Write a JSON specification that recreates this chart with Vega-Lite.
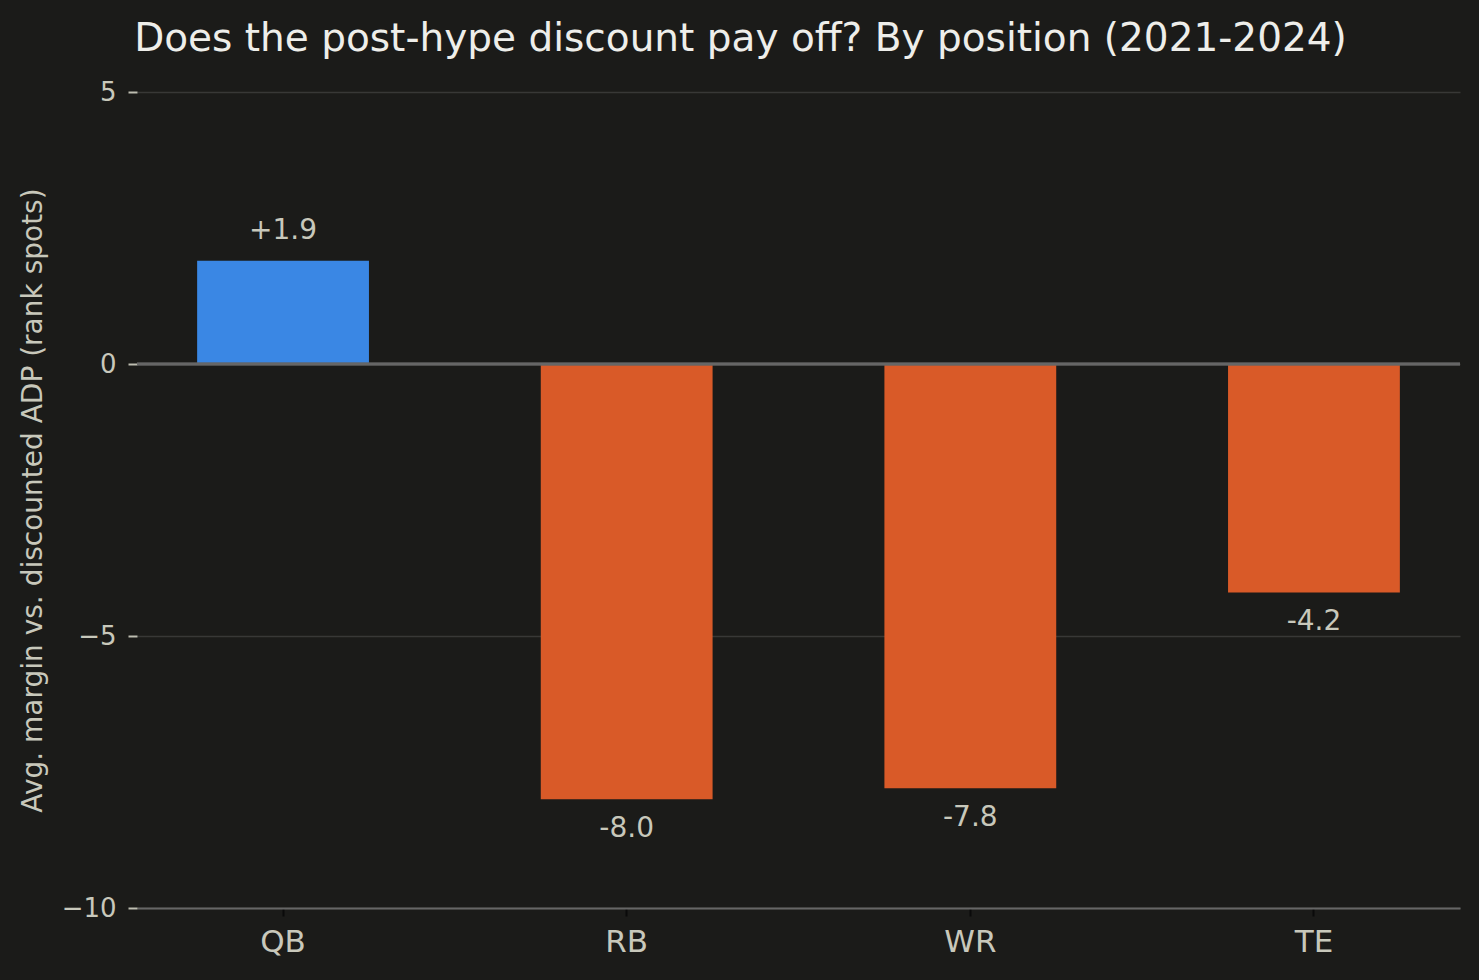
{
  "$schema": "https://vega.github.io/schema/vega-lite/v6.json",
  "width": 1323,
  "height": 816,
  "autosize": {"type": "none"},
  "padding": {"left": 137, "top": 92, "right": 19, "bottom": 72},
  "background": "#1b1b19",
  "title": {
    "text": "Does the post-hype discount pay off? By position (2021-2024)",
    "anchor": "middle",
    "frame": "group",
    "dx": -58,
    "offset": -11,
    "baseline": "alphabetic",
    "font": "DejaVu Sans",
    "fontSize": 39,
    "fontWeight": "normal",
    "color": "#eeeeea"
  },
  "data": {
    "values": [
      {"position": "QB", "margin": 1.9, "label": "+1.9"},
      {"position": "RB", "margin": -8.0, "label": "-8.0"},
      {"position": "WR", "margin": -7.8, "label": "-7.8"},
      {"position": "TE", "margin": -4.2, "label": "-4.2"}
    ]
  },
  "encoding": {
    "x": {
      "field": "position",
      "type": "nominal",
      "sort": null,
      "scale": {"paddingInner": 0.5, "paddingOuter": 0.175},
      "axis": {
        "title": null,
        "labelAngle": 0,
        "labelFontSize": 31,
        "labelPadding": 11,
        "tickSize": 8,
        "tickWidth": 2,
        "tickColor": "#0a0a0a",
        "domainColor": "#666666",
        "domainWidth": 2
      }
    },
    "y": {
      "field": "margin",
      "type": "quantitative",
      "scale": {"domain": [-10, 5], "nice": false},
      "axis": {
        "title": "Avg. margin vs. discounted ADP (rank spots)",
        "values": [-10, -5, 0, 5],
        "domain": false,
        "tickSize": 9,
        "tickWidth": 2,
        "tickColor": "#bdbdb0",
        "labelFontSize": 26,
        "labelPadding": 12,
        "grid": true,
        "gridColor": "#383836",
        "gridWidth": 1.5,
        "titleFontSize": 28,
        "titleX": -104,
        "titleY": 408,
        "titleAngle": -90,
        "titleAlign": "center",
        "titleBaseline": "middle"
      }
    }
  },
  "layer": [
    {
      "mark": {"type": "bar"},
      "encoding": {
        "color": {
          "condition": {"test": "datum.margin > 0", "value": "#3a87e4"},
          "value": "#d95a28"
        }
      }
    },
    {
      "mark": {"type": "rule", "color": "#666666", "strokeWidth": 2.5},
      "encoding": {"y": {"datum": 0}, "x": null}
    },
    {
      "transform": [{"filter": "datum.margin >= 0"}],
      "mark": {"type": "text", "dy": -30, "baseline": "middle", "fontSize": 28, "color": "#c8c8bb", "font": "DejaVu Sans"},
      "encoding": {"text": {"field": "label"}}
    },
    {
      "transform": [{"filter": "datum.margin < 0"}],
      "mark": {"type": "text", "dy": 30, "baseline": "middle", "fontSize": 28, "color": "#c8c8bb", "font": "DejaVu Sans"},
      "encoding": {"text": {"field": "label"}}
    }
  ],
  "config": {
    "view": {"stroke": null},
    "axis": {
      "labelFont": "DejaVu Sans",
      "titleFont": "DejaVu Sans",
      "labelColor": "#c8c8bb",
      "titleColor": "#c8c8bb",
      "titleFontWeight": "normal"
    }
  }
}
